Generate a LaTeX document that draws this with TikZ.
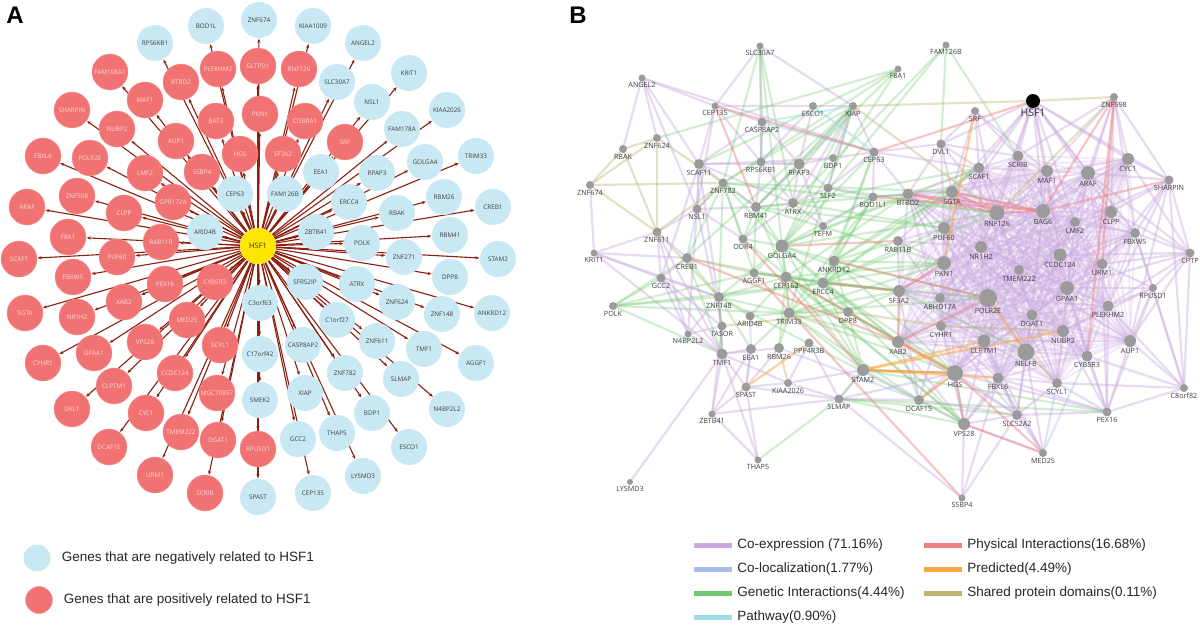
\documentclass[tikz,border=0pt]{standalone}
\usepackage{fontspec}
\setmainfont{Open Sans}
\newfontfamily\keyfont{Liberation Sans}
\usetikzlibrary{arrows.meta,backgrounds,positioning}

\definecolor{negblue}{HTML}{C8E8F4}
\definecolor{posred}{HTML}{F07272}
\definecolor{hubyellow}{HTML}{FFE600}
\definecolor{arrowred}{HTML}{8B1E0E}
\definecolor{dotgray}{HTML}{9B9B9B}
\definecolor{coexpcol}{HTML}{C9A9DE}
\definecolor{coloccol}{HTML}{A9BDEB}
\definecolor{geneticcol}{HTML}{72C872}
\definecolor{pathcol}{HTML}{9EDDE6}
\definecolor{physcol}{HTML}{F07F7F}
\definecolor{predcol}{HTML}{F8A640}
\definecolor{domaincol}{HTML}{BDB474}

\tikzset{
  gene/.style={circle, minimum size=36pt, inner sep=0pt, font=\fontsize{6.3}{7}\selectfont},
  neggene/.style={gene, fill=negblue, text=black!75},
  posgene/.style={gene, fill=posred, draw=posred!75!white, text=white!85!red},
  hub/.style={gene, fill=hubyellow, text=black!80, font=\fontsize{7.5}{8}\selectfont},
  arr/.style={arrowred, line width=1.1pt, -{Stealth[length=4pt,width=3.2pt]}, shorten >=0.5pt},
  gdot/.style={circle, fill=dotgray, inner sep=0pt},
  glbl/.style={font=\fontsize{7.2}{8}\selectfont, text=black!75, inner sep=0.8pt},
  link/.style={line width=2.2pt, line cap=round},
  coexpcore/.style={coexpcol, line width=1.9pt, draw opacity=0.24},
  coexp/.style={link, coexpcol, draw opacity=0.42},
  genetic/.style={link, geneticcol, draw opacity=0.32},
  coloc/.style={link, coloccol, draw opacity=0.4},
  pathway/.style={link, pathcol, draw opacity=0.5},
  sharedom/.style={link, domaincol, draw opacity=0.4},
  physical/.style={link, physcol, draw opacity=0.45},
  predicted/.style={link, predcol, draw opacity=0.5},
  swatch/.style={rectangle, minimum width=38pt, minimum height=5pt, inner sep=0pt},
  keytext/.style={font=\keyfont\fontsize{13.5}{15}\selectfont, text=black!85, inner sep=0pt},
  panel/.style={font=\keyfont\bfseries\fontsize{24}{24}\selectfont}
}

% panel A: genes around HSF1
\def\neglist{BOD1L/206/26, ZNF674/259/20, RPS6KB1/155/43, KIAA1009/313/26,
  ANGEL2/363/43, SLC30A7/337/82, KRIT1/409/73, NSL1/372/102, KIAA2026/447/110,
  FAM178A/402/129, EEA1/321/172, RPAP3/377/173, GOLGA4/425/162, TRIM33/476/156,
  FAM126B/285/194, ERCC4/349/202, RBM26/444/197, CREB1/493/207, RBAK/397/213,
  ZBTB41/316/232, POLK/362/243, RBM41/450/235, CEP63/235/194, ARID4B/205/232,
  C3orf63/260/303, C17orf42/260/354, SMEK2/260/400, SPAST/258/497, ZNF271/404/257,
  STAM2/498/259, SFRS2IP/305/282, ATRX/357/284, DPP8/450/277, ZNF624/397/302,
  ZNF148/442/314, ANKRD12/492/313, C1orf27/337/320, CASP8AP2/303/345,
  ZNF611/377/341, TMF1/424/349, AGGF1/476/363, ZNF782/345/373, SLMAP/401/379,
  XIAP/305/393, N4BP2L2/447/409, BDP1/372/413, GCC2/298/439, THAP5/337/433,
  ESCO1/409/447, LYSMD3/363/476, CEP135/313/493}
\def\poslist{FAM108A1/110/72, BTBD2/181/82, PLEKHM2/218/69, GLTPD1/258/66,
  MAF1/145/100, SHARPIN/72/110, NUBP2/117/129, BAT3/216/121, PKN1/260/114,
  AUP1/176/141, FBXL6/43/156, POLR2E/90/158, LMF2/145/173, SSBP4/202/172,
  HGS/240/154, ZNF598/77/196, GPR172A/173/202, CLPP/124/213, ARAF/27/207,
  F8A1/68/237, RAB11B/161/242, RNF126/299/69, COBRA1/305/121, SF3A2/283/154,
  SRF/345/142, SCAF1/19/259, PUF60/117/257, FBXW5/73/277, PEX16/165/284,
  CYB5R3/215/282, SGTA/25/313, XAB2/124/302, NR1H2/77/317, MED25/187/320,
  VPS28/145/342, SCYL1/220/345, GPAA1/94/353, CYHR1/43/363, CLPTM1/114/386,
  CCDC124/175/373, MGC70857/217/393, DVL1/72/409, CYC1/146/413, TMEM222/181/432,
  DGAT1/218/440, RPUSD1/258/449, DCAF15/109/447, URM1/155/475, SCRIB/205/493}

% panel B: name/x/y/dot size
\def\netlist{SLC30A7/760/46/7, FAM126B/946/45/7, F8A1/898/69/7, ANGEL2/642/78/7,
  ZNF598/1114/97/8, CEP135/715/106/7, ESCO1/813/106/8, XIAP/853/106/8,
  SRF/975/111/8, CASP8AP2/762/122/9, ZNF624/657/138/8, RBAK/623/149/8,
  DVL1/941/144/9, CEP63/874/152/9, SCRIB/1018/156/11, CYC1/1128/159/12,
  BDP1/833/158/8, SCAF11/699/164/10, RPS6KB1/761/162/9, RPAP3/799/164/11,
  SCAF1/979/168/11, MAF1/1047/171/12, ARAF/1088/173/14, SHARPIN/1169/180/9,
  ZNF674/590/185/8, ZNF782/723/183/9, SLF2/828/188/9, BTBD2/908/194/11,
  SGTA/952/192/12, BOD1L1/873/197/9, NSL1/697/209/9, RBM41/756/207/10,
  ATRX/793/203/10, RNF126/997/213/15, BAG6/1043/211/14, CLPP/1111/212/12,
  LMF2/1075/222/10, TEFM/823/226/8, PUF60/944/228/12, FBXW5/1135/233/10,
  ZNF611/657/232/9, ODR4/743/239/9, RAB11B/898/241/10, GOLGA4/782/246/13,
  NR1H2/981/247/12, KRIT1/594/253/7, CREB1/687/258/10, CPTP/1190/253/9,
  CCDC124/1060/255/13, ANKRD12/834/261/11, PKN1/944/263/14, URM1/1102/264/11,
  TMEM222/1019/270/10, AGGF1/754/273/9, CEP162/786/277/11, ERCC4/823/283/11,
  GCC2/661/278/9, GPAA1/1067/288/14, RPUSD1/1153/288/8, SF3A2/899/291/12,
  ABHD17A/940/298/10, POLR2E/988/298/18, ZNF148/719/297/10, PLEKHM2/1108/306/11,
  POLK/613/306/8, TRIM33/789/313/11, DPP8/848/312/10, DGAT1/1032/315/11,
  ARID4B/750/316/9, CYHR1/941/326/10, TASOR/722/326/9, NUBP2/1063/331/12,
  N4BP2L2/688/334/7, CLPTM1/984/341/13, XAB2/898/342/12, AUP1/1130/341/12,
  PPP4R3B/809/343/9, RBM26/779/348/10, EEA1/751/349/10, TMF1/722/354/11,
  NELFB/1026/352/17, CYB5R3/1087/356/11, STAM2/863/370/12, HGS/955/373/16,
  FBXL6/998/378/11, SCYL1/1057/383/10, KIAA2026/788/383/8, SPAST/746/387/9,
  C8orf82/1184/388/8, SLMAP/839/399/9, DCAF15/919/400/10, PEX16/1107/412/9,
  ZBTB41/712/414/7, SLC52A2/1017/415/10, VPS28/964/424/12, MED25/1043/453/8,
  THAP5/758/460/7, SSBP4/962/498/7, LYSMD3/630/482/6}
\def\corelist{SCRIB,MAF1,ARAF,CYC1,SCAF1,SGTA,RNF126,BAG6,CLPP,LMF2,PUF60,NR1H2,
  CCDC124,PKN1,TMEM222,URM1,POLR2E,GPAA1,PLEKHM2,DGAT1,NUBP2,AUP1,CLPTM1,NELFB,
  CYB5R3,HGS,FBXL6,SCYL1,CYHR1,ABHD17A,FBXW5,BTBD2,SF3A2,XAB2}

\begin{document}
\begin{tikzpicture}[x=1pt, y=-1pt]
\useasboundingbox (0,0) rectangle (1200,626);

\node[panel] (labA) at (15,15) {A};
\node[panel] (labB) at (578,15) {B};

% ---- A ----
\node[hub] (aHSF1) at (258,246) {HSF1};
\foreach \n/\x/\y in \neglist {\node[neggene] (a\n) at (\x,\y) {\n};}
\foreach \n/\x/\y in \poslist {\node[posgene] (a\n) at (\x,\y) {\n};}
\begin{scope}[on background layer]
  \foreach \n/\x/\y in \neglist {\draw[arr] (aHSF1) -- (a\n);}
  \foreach \n/\x/\y in \poslist {\draw[arr] (aHSF1) -- (a\n);}
\end{scope}

\node[neggene, minimum size=27pt] (keyneg) at (37,558) {};
\node[keytext, right=11pt of keyneg] (tneg) {Genes that are negatively related to HSF1};
\node[posgene, minimum size=27pt] (keypos) at (39,600) {};
\node[keytext, right=11pt of keypos] (tpos) {Genes that are positively related to HSF1};

% ---- B ----
\node[gdot, fill=black, minimum size=14pt,
  label={[glbl, font=\fontsize{10.5}{11}\selectfont, text=black!80]below:HSF1}] (bHSF1) at (1033,101) {};
\foreach \n/\x/\y/\s in \netlist {
  \node[gdot, minimum size=\s pt, label={[glbl]below:\n}] (b\n) at (\x,\y) {};
}

\begin{scope}[on background layer]
  % dense co-expression core
  \foreach \u [count=\i] in \corelist {
    \foreach \v [count=\j] in \corelist {
      \ifnum\j>\i \draw[coexpcore] (b\u) -- (b\v); \fi
    }
  }
  \foreach \u/\v in {HSF1/SCRIB, HSF1/MAF1, HSF1/ARAF, HSF1/CYC1, HSF1/SCAF1,
    HSF1/BAG6, HSF1/RNF126, HSF1/LMF2, HSF1/SHARPIN, HSF1/CLPP, HSF1/SGTA,
    HSF1/PUF60, HSF1/NR1H2, HSF1/CCDC124, HSF1/DVL1, HSF1/FBXW5,
    ZNF598/CYC1, ZNF598/SHARPIN, ZNF598/ARAF, ZNF598/MAF1, ZNF598/CLPP,
    ZNF598/FBXW5, ZNF598/SCRIB, ZNF598/LMF2,
    SHARPIN/CYC1, SHARPIN/ARAF, SHARPIN/CLPP, SHARPIN/FBXW5, SHARPIN/CPTP,
    SHARPIN/AUP1, SHARPIN/URM1, SHARPIN/PLEKHM2, SHARPIN/C8orf82, SHARPIN/LMF2,
    CPTP/CLPP, CPTP/FBXW5, CPTP/URM1, CPTP/RPUSD1, CPTP/C8orf82, CPTP/AUP1,
    CPTP/PLEKHM2, CPTP/CCDC124, CPTP/ARAF, CPTP/GPAA1, CPTP/CYC1,
    RPUSD1/URM1, RPUSD1/PLEKHM2, RPUSD1/AUP1, RPUSD1/GPAA1, RPUSD1/C8orf82,
    RPUSD1/PEX16, RPUSD1/NUBP2, RPUSD1/FBXW5,
    C8orf82/AUP1, C8orf82/PLEKHM2, C8orf82/PEX16, C8orf82/CYB5R3,
    C8orf82/SCYL1, C8orf82/FBXW5,
    PEX16/AUP1, PEX16/CYB5R3, PEX16/SCYL1, PEX16/NUBP2, PEX16/PLEKHM2,
    PEX16/SLC52A2, PEX16/HGS, PEX16/FBXL6, PEX16/GPAA1, PEX16/URM1,
    MED25/SLC52A2, MED25/FBXL6, MED25/NELFB, MED25/CLPTM1, MED25/VPS28,
    SLC52A2/HGS, SLC52A2/FBXL6, SLC52A2/VPS28, SLC52A2/SCYL1, SLC52A2/NELFB,
    SLC52A2/CLPTM1, SLC52A2/DGAT1, SLC52A2/CYHR1, SLC52A2/XAB2, SLC52A2/DCAF15,
    VPS28/HGS, VPS28/FBXL6, VPS28/CLPTM1, VPS28/XAB2, VPS28/DCAF15,
    VPS28/CYHR1, VPS28/NELFB, SSBP4/SLC52A2, SSBP4/VPS28, SSBP4/FBXL6,
    DCAF15/HGS, DCAF15/XAB2, DCAF15/CYHR1, DCAF15/CLPTM1, DCAF15/SF3A2,
    DCAF15/STAM2, SRF/SCAF1, SRF/SCRIB, SRF/SGTA, SRF/DVL1, SRF/RNF126,
    SRF/MAF1, DVL1/SCAF1, DVL1/SCRIB, DVL1/SGTA, DVL1/PUF60, DVL1/RNF126,
    DVL1/BTBD2, RAB11B/PUF60, RAB11B/PKN1, RAB11B/SF3A2, RAB11B/NR1H2,
    RAB11B/ABHD17A, RAB11B/SGTA, BOD1L1/BTBD2, BOD1L1/SGTA, CEP63/BTBD2,
    CEP63/SCAF1, CEP63/DVL1,
    ANGEL2/CEP135, ANGEL2/ZNF624, ANGEL2/SCAF11, ANGEL2/NSL1, ANGEL2/CEP63,
    ANGEL2/RBAK, SLC30A7/XIAP, SLC30A7/CEP135, SLC30A7/CASP8AP2,
    CEP135/SCAF11, CEP135/NSL1, CEP135/CASP8AP2, CEP135/ESCO1, CEP135/RPS6KB1,
    ZNF674/KRIT1, KRIT1/ZNF611, KRIT1/CREB1, KRIT1/TMF1, KRIT1/ZNF148,
    KRIT1/GCC2, ZNF611/CREB1, ZNF611/NSL1, ZNF611/GCC2, ZNF611/TMF1,
    ZNF611/N4BP2L2, NSL1/SCAF11, NSL1/RBM41, NSL1/ZNF782, NSL1/N4BP2L2,
    NSL1/TASOR, NSL1/ODR4, SCAF11/RPS6KB1, SCAF11/RPAP3, SCAF11/CASP8AP2,
    SCAF11/RBM41, SCAF11/ATRX, SCAF11/GCC2, SCAF11/TASOR,
    RPS6KB1/RPAP3, RPS6KB1/CASP8AP2, RPS6KB1/RBM41, RPS6KB1/ATRX,
    RPS6KB1/ESCO1, RPS6KB1/BDP1, RPAP3/BDP1, RPAP3/SLF2, RPAP3/ATRX,
    RPAP3/RBM41, RPAP3/CASP8AP2, RPAP3/ESCO1, RPAP3/XIAP, RPAP3/TEFM,
    XIAP/ESCO1, XIAP/BDP1, XIAP/SLF2, XIAP/CEP63, XIAP/ATRX, CEP63/BDP1,
    CEP63/SLF2, CEP63/BOD1L1, ATRX/SLF2, ATRX/RBM41, ATRX/TEFM, ATRX/ODR4,
    SLF2/BOD1L1, TEFM/BOD1L1, GCC2/CREB1, GCC2/TMF1, GCC2/ZNF148,
    GCC2/N4BP2L2, GCC2/TASOR, N4BP2L2/TMF1, N4BP2L2/TASOR, N4BP2L2/ZNF148,
    TMF1/ZNF148, TMF1/TASOR, TMF1/EEA1, TMF1/SPAST, TMF1/ZBTB41, TMF1/THAP5,
    TMF1/LYSMD3, TMF1/KIAA2026, TMF1/RBM26, ZBTB41/SPAST, ZBTB41/EEA1,
    ZBTB41/SLMAP, ZBTB41/TASOR, SPAST/EEA1, SPAST/KIAA2026, SPAST/THAP5,
    SPAST/SLMAP, SPAST/RBM26, KIAA2026/SLMAP, KIAA2026/PPP4R3B, KIAA2026/STAM2,
    SLMAP/STAM2, SLMAP/DCAF15, SLMAP/HGS, SLMAP/PPP4R3B, SLMAP/SSBP4,
    THAP5/ZBTB41}
    {\draw[coexp] (b\u) -- (b\v);}
  % genetic interactions
  \foreach \u/\v in {SLC30A7/RPS6KB1, SLC30A7/ZNF782, SLC30A7/GOLGA4, SLC30A7/ATRX,
    F8A1/ZNF624, F8A1/SCAF11, F8A1/ZNF782, F8A1/RBM41, F8A1/GOLGA4,
    FAM126B/DVL1, FAM126B/ATRX, FAM126B/GOLGA4, FAM126B/SCRIB,
    XIAP/RBM41, XIAP/ZNF782, XIAP/GOLGA4, XIAP/TRIM33, XIAP/ODR4, XIAP/CREB1,
    CEP63/ERCC4, CEP63/GOLGA4, CEP63/ANKRD12, SCAF1/GOLGA4, SCAF1/ANKRD12,
    SCAF1/ERCC4, SCAF1/ATRX, SGTA/ANKRD12, SGTA/ERCC4, SGTA/ZNF782,
    BTBD2/GOLGA4, BTBD2/RBM41, BTBD2/CEP162, BOD1L1/ERCC4, BOD1L1/TRIM33,
    BOD1L1/GOLGA4, PUF60/ATRX, PUF60/ERCC4, PUF60/RBM41, RNF126/ERCC4,
    RNF126/GOLGA4, RNF126/SLF2, RNF126/ZNF782, PKN1/ERCC4, PKN1/TRIM33,
    PKN1/ANKRD12, PKN1/CEP162, PKN1/RBM41, SF3A2/ERCC4, SF3A2/TRIM33,
    SF3A2/CEP162, SF3A2/GOLGA4, SF3A2/AGGF1, POLR2E/ERCC4, POLR2E/ANKRD12,
    POLR2E/TRIM33, XAB2/CEP162, XAB2/TRIM33, XAB2/ERCC4, XAB2/GOLGA4,
    HGS/CEP162, HGS/ERCC4, HGS/TRIM33, HGS/STAM2, HGS/ANKRD12,
    STAM2/TRIM33, STAM2/ERCC4, STAM2/GOLGA4, STAM2/CEP162, STAM2/SLMAP,
    STAM2/DPP8, STAM2/PEX16, VPS28/ERCC4, VPS28/CEP162, VPS28/ODR4,
    VPS28/ZNF148, SLMAP/THAP5, SLMAP/VPS28, SLMAP/PEX16, SLMAP/SLC52A2,
    DCAF15/TRIM33, NELFB/SF3A2, POLK/GCC2, POLK/CREB1, POLK/TMF1, POLK/ERCC4,
    POLK/TRIM33, POLK/ZNF148, POLK/AGGF1, GOLGA4/ZNF782, GOLGA4/RBM41,
    GOLGA4/ODR4, GOLGA4/AGGF1, GOLGA4/CEP162, GOLGA4/ANKRD12, GOLGA4/ERCC4,
    GOLGA4/TRIM33, GOLGA4/ZNF148, CEP162/AGGF1, CEP162/ARID4B, CEP162/TRIM33,
    CEP162/ERCC4, CEP162/ZNF148, CEP162/RBM26, ERCC4/TRIM33, ERCC4/ANKRD12,
    ERCC4/DPP8, ERCC4/AGGF1, ERCC4/ZNF148, TRIM33/ARID4B, TRIM33/RBM26,
    TRIM33/EEA1, TRIM33/ZNF148, TRIM33/DPP8, ZNF782/RBM41, ZNF782/ODR4,
    ZNF782/AGGF1, ZNF782/ZNF148, ZNF782/CREB1, ZNF782/NSL1, RBM41/ODR4,
    RBM41/AGGF1, RBM41/CEP162, CREB1/ZNF148, CREB1/AGGF1, CREB1/TMF1,
    ZNF148/TMF1, ZNF148/EEA1, ZNF148/ARID4B, ANKRD12/DPP8, ANKRD12/RAB11B,
    ANKRD12/BOD1L1, DPP8/XAB2, DPP8/SF3A2}
    {\draw[genetic] (b\u) -- (b\v);}
  \foreach \u/\v in {SCAF11/NSL1, NSL1/CREB1, MED25/SCYL1, MED25/CYB5R3,
    ARID4B/EEA1, EEA1/SPAST, RBM26/DCAF15, CASP8AP2/RPS6KB1}
    {\draw[coloc] (b\u) -- (b\v);}
  \foreach \u/\v in {CASP8AP2/CEP63, ESCO1/CEP63, XIAP/CASP8AP2}
    {\draw[pathway] (b\u) -- (b\v);}
  \foreach \u/\v in {ZNF674/RBAK, ZNF674/ZNF624, ZNF674/ZNF782, ZNF674/ZNF611,
    RBAK/ZNF624, RBAK/ZNF611, ZNF624/ZNF611, ZNF624/ZNF782, ZNF611/ZNF782,
    ZNF148/ZNF611, XIAP/HSF1, HSF1/ZNF598, ZNF598/RNF126, XIAP/RNF126,
    NELFB/SCYL1, KIAA2026/RBM26, TASOR/DPP8, DPP8/CYHR1, CYHR1/NUBP2,
    CREB1/CEP162}
    {\draw[sharedom] (b\u) -- (b\v);}
  \foreach \u/\v in {HSF1/CEP63, CEP135/CEP63, CEP135/RBM41, ZNF598/BAG6,
    ZNF598/URM1, ZNF598/CYB5R3, BAG6/SHARPIN, BAG6/SGTA, BAG6/RNF126,
    BAG6/BTBD2, BAG6/BOD1L1, RNF126/SGTA, BTBD2/RNF126, STAM2/HGS, HGS/VPS28,
    HGS/MED25, VPS28/MED25, SSBP4/AGGF1, CREB1/XAB2, ERCC4/SF3A2,
    ANKRD12/POLR2E, XAB2/POLR2E, XAB2/SF3A2, PKN1/SF3A2, CEP162/HGS,
    GOLGA4/RAB11B, ODR4/STAM2}
    {\draw[physical] (b\u) -- (b\v);}
  \foreach \u/\v in {STAM2/HGS, STAM2/CLPTM1, STAM2/FBXL6, XAB2/HGS,
    SPAST/PPP4R3B, SRF/PKN1, POLR2E/NELFB, STAM2/NUBP2, DCAF15/HGS}
    {\draw[predicted] (b\u) -- (b\v);}
\end{scope}

% legend B
\foreach \c/\x/\y/\t in {coexpcol/713/545/{Co-expression (71.16\%)},
    coloccol/713/569/{Co-localization(1.77\%)},
    geneticcol/713/593/{Genetic Interactions(4.44\%)},
    pathcol/713/617/{Pathway(0.90\%)},
    physcol/943/545/{Physical Interactions(16.68\%)},
    predcol/943/569/{Predicted(4.49\%)},
    domaincol/943/593/{Shared protein domains(0.11\%)}} {
  \node[swatch, fill=\c] (k\c) at (\x,\y) {};
  \node[keytext, right=5pt of k\c] (t\c) {\t};
}
\end{tikzpicture}
\end{document}
